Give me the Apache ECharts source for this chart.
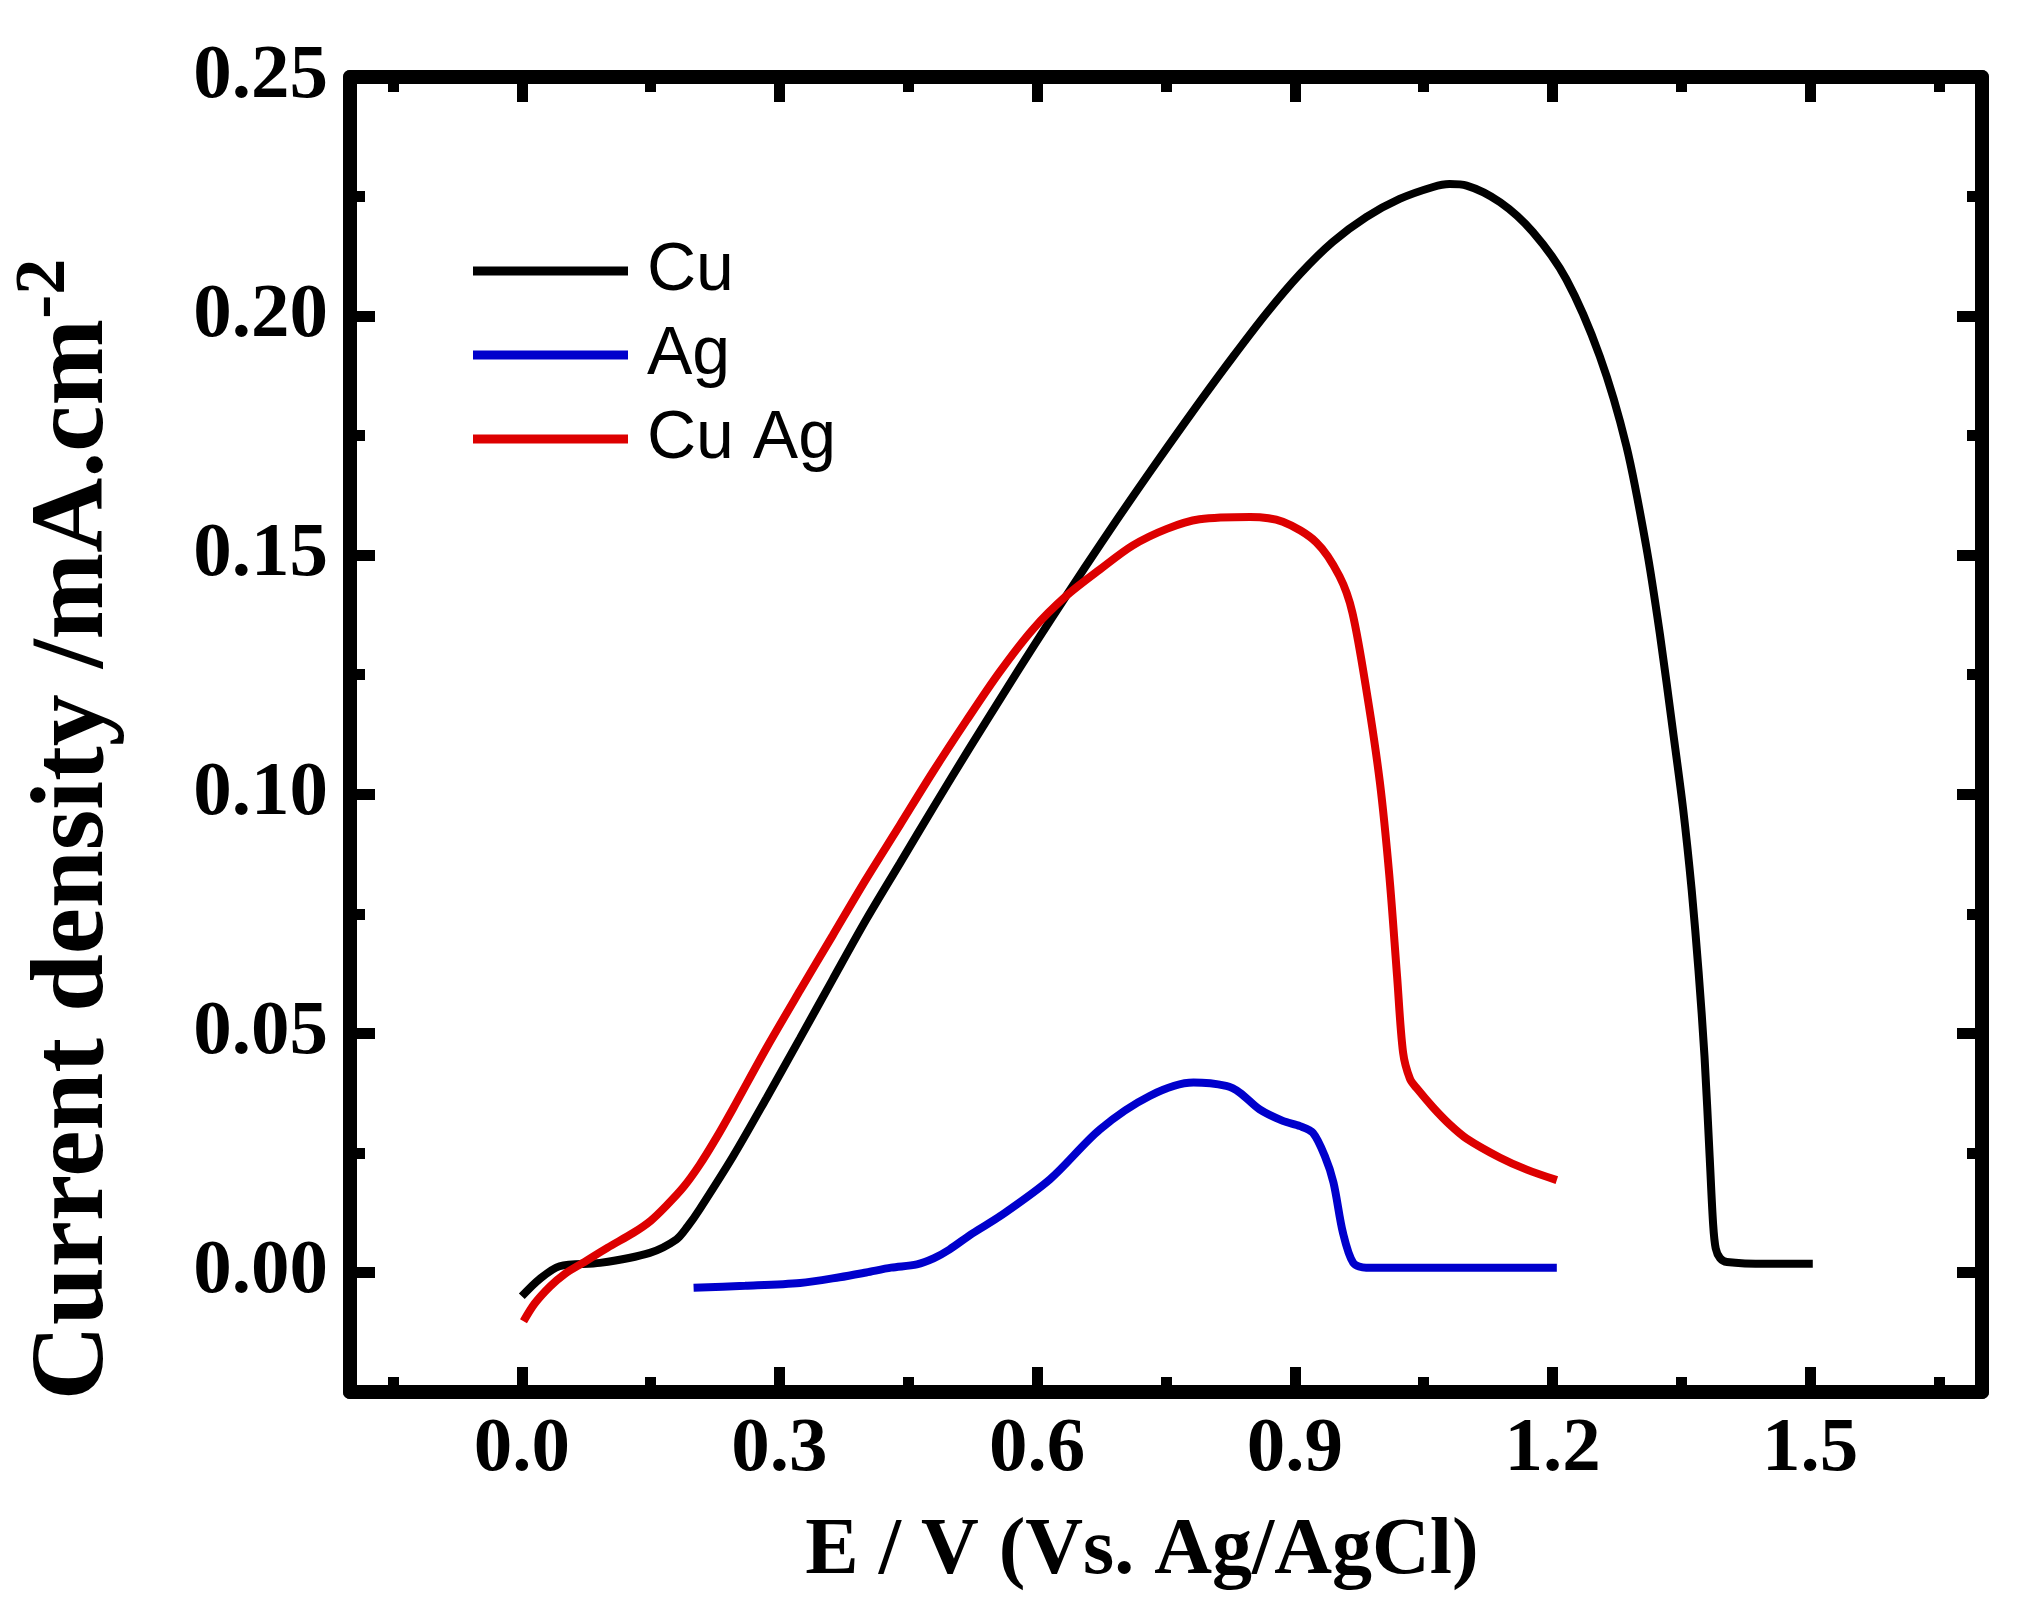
<!DOCTYPE html>
<html>
<head>
<meta charset="utf-8">
<title>Current density vs E</title>
<script src="https://cdn.jsdelivr.net/npm/echarts@6/dist/echarts.min.js"></script>
<style>
    html, body { margin: 0; padding: 0; background: #fff; }
    #main { width: 2043px; height: 1609px; }
</style>
</head>
<body>
<div id="main"></div>
<script>
    // Cu
    var cuE = [0.000, 0.020, 0.044, 0.091, 0.149, 0.180, 0.193, 0.207, 0.246, 0.285, 0.324, 0.362, 0.401, 0.440,
        0.480, 0.520, 0.560, 0.597, 0.636, 0.674, 0.713, 0.752, 0.789, 0.828, 0.867, 0.906, 0.944, 0.983, 1.022,
        1.061, 1.080, 1.100, 1.139, 1.177, 1.216, 1.255, 1.286, 1.309, 1.325, 1.340, 1.352, 1.362, 1.370, 1.377,
        1.383, 1.387, 1.390, 1.395, 1.403, 1.450, 1.503];
    var cuJ = [-0.005, -0.0015, 0.0013, 0.002, 0.0041, 0.0069, 0.0096, 0.0132, 0.0243, 0.0365, 0.049, 0.0613, 0.0738, 0.0855,
        0.0975, 0.1093, 0.1208, 0.1313, 0.1421, 0.1524, 0.1627, 0.1727, 0.182, 0.1915, 0.2006, 0.2088, 0.2155, 0.2207, 0.2245,
        0.227, 0.2276, 0.2273, 0.2238, 0.2176, 0.2077, 0.1916, 0.1728, 0.1519, 0.1335, 0.1135, 0.097, 0.080, 0.063, 0.045,
        0.024, 0.010, 0.005, 0.003, 0.0022, 0.0018, 0.0018];

    // Ag
    var agE = [0.200, 0.260, 0.324, 0.370, 0.401, 0.430, 0.460, 0.480, 0.498, 0.525, 0.557, 0.615, 0.673, 0.731,
        0.782, 0.820, 0.836, 0.859, 0.886, 0.906, 0.921, 0.935, 0.945, 0.956, 0.968, 0.983, 1.060, 1.140, 1.205];
    var agJ = [-0.0032, -0.0028, -0.0022, -0.001, 0.000, 0.001, 0.0017, 0.003, 0.0048, 0.0082, 0.0118, 0.0195, 0.0299, 0.0369,
        0.0397, 0.039, 0.0376, 0.0341, 0.0317, 0.0306, 0.0292, 0.0243, 0.0188, 0.0083, 0.002, 0.001, 0.001, 0.001, 0.001];

    // Cu Ag
    var cuagE = [0.002, 0.015, 0.033, 0.050, 0.071, 0.100, 0.130, 0.150, 0.168, 0.188, 0.207, 0.227, 0.246, 0.285,
        0.324, 0.362, 0.400, 0.440, 0.478, 0.518, 0.556, 0.595, 0.634, 0.673, 0.711, 0.751, 0.789, 0.848, 0.886,
        0.925, 0.952, 0.967, 0.984, 0.999, 1.010, 1.019, 1.026, 1.034, 1.042, 1.061, 1.080, 1.100, 1.139, 1.170, 1.205];
    var cuagJ = [-0.0102, -0.0065, -0.0029, -0.0003, 0.002, 0.0052, 0.0083, 0.0108, 0.0139, 0.0178, 0.0225, 0.0283, 0.0343, 0.047,
        0.059, 0.0705, 0.082, 0.0935, 0.1045, 0.1155, 0.1255, 0.1345, 0.1415, 0.147, 0.152, 0.1555, 0.1575, 0.158, 0.157,
        0.1527, 0.1456, 0.138, 0.121, 0.1025, 0.083, 0.062, 0.046, 0.0405, 0.0385, 0.0345, 0.031, 0.028, 0.024, 0.0215, 0.0193];

    var xMajor = [0, 0.3, 0.6, 0.9, 1.2, 1.5];
    var xMinor = [-0.15, 0.15, 0.45, 0.75, 1.05, 1.35, 1.65];
    var yMajor = [0, 0.05, 0.10, 0.15, 0.20, 0.25];
    var yMinor = [0.025, 0.075, 0.125, 0.175, 0.225];

    function pairs(xs, ys) {
        return xs.map(function (x, i) { return [x, ys[i]]; });
    }

    var serif = 'Liberation Serif';

    // one axis per side and tick size: the long ones carry the frame line, the short ones only ticks
    function xAx(pos, ticks, len, main) {
        return {
            type: 'value', position: pos, min: -0.2, max: 1.7,
            axisLine: { show: !!main, onZero: false, lineStyle: { color: '#000', width: 14 } },
            axisTick: { show: true, inside: true, length: len, customValues: ticks, lineStyle: { color: '#000', width: 11 } },
            axisLabel: { show: false },
            splitLine: { show: false }
        };
    }
    function yAx(pos, ticks, len, main) {
        return {
            type: 'value', position: pos, min: -0.025, max: 0.25,
            axisLine: { show: !!main, onZero: false, lineStyle: { color: '#000', width: 14 } },
            axisTick: { show: true, inside: true, length: len, customValues: ticks, lineStyle: { color: '#000', width: 11 } },
            axisLabel: { show: false },
            splitLine: { show: false }
        };
    }

    var xBottom = xAx('bottom', xMajor, 25, true);
    xBottom.axisLabel = {
        show: true, customValues: xMajor, margin: 20,
        fontFamily: serif, fontWeight: 'bold', fontSize: 77, color: '#000',
        formatter: function (v) { return v.toFixed(1); }
    };
    xBottom.name = 'E / V (Vs. Ag/AgCl)';
    xBottom.nameLocation = 'middle';
    xBottom.nameGap = 120;
    xBottom.nameTextStyle = { fontFamily: serif, fontWeight: 'bold', fontSize: 80, color: '#000', padding: [0, 48, 0, 0] };

    var yLeft = yAx('left', yMajor, 25, true);
    yLeft.axisLabel = {
        show: true, customValues: yMajor, margin: 22,
        fontFamily: serif, fontWeight: 'bold', fontSize: 77, color: '#000',
        formatter: function (v) { return v.toFixed(2); }
    };
    yLeft.name = '{a|Current density /mA.cm}{s|-2}';
    yLeft.nameLocation = 'middle';
    yLeft.nameGap = 209;
    yLeft.nameTextStyle = {
        padding: [0, 190, 0, 0],
        rich: {
            a: { fontFamily: serif, fontWeight: 'bold', fontSize: 104, color: '#000', lineHeight: 132 },
            s: { fontFamily: serif, fontWeight: 'bold', fontSize: 72, color: '#000', lineHeight: 72, verticalAlign: 'top' }
        }
    };

    var myChart = echarts.init(document.getElementById('main'));
    var option = {
        animation: false,
        backgroundColor: '#fff',
        grid: { left: 350, right: 61, top: 77, bottom: 217, containLabel: false },
        legend: {
            orient: 'vertical',
            left: 468,
            top: 232,
            itemWidth: 155,
            itemHeight: 9,
            itemGap: 16,
            icon: 'rect',
            textStyle: { fontFamily: 'Liberation Sans', fontSize: 68, color: '#000', lineHeight: 68, padding: [0, 0, 0, 14] },
            data: ['Cu', 'Ag', 'Cu Ag']
        },
        xAxis: [
            xBottom,
            xAx('bottom', xMinor, 15, false),
            xAx('top', xMajor, 25, true),
            xAx('top', xMinor, 15, false)
        ],
        yAxis: [
            yLeft,
            yAx('left', yMinor, 15, false),
            yAx('right', yMajor, 25, true),
            yAx('right', yMinor, 15, false)
        ],
        series: [
            {
                name: 'Cu', type: 'line', data: pairs(cuE, cuJ),
                showSymbol: false, symbol: 'none', smooth: 0.3,
                lineStyle: { color: '#000000', width: 8 }, itemStyle: { color: '#000000' }
            },
            {
                name: 'Ag', type: 'line', data: pairs(agE, agJ),
                showSymbol: false, symbol: 'none', smooth: 0.3,
                lineStyle: { color: '#0000cc', width: 8 }, itemStyle: { color: '#0000cc' }
            },
            {
                name: 'Cu Ag', type: 'line', data: pairs(cuagE, cuagJ),
                showSymbol: false, symbol: 'none', smooth: 0.3,
                lineStyle: { color: '#dd0000', width: 8 }, itemStyle: { color: '#dd0000' }
            }
        ]
    };

    myChart.setOption(option);
</script>
</body>
</html>
